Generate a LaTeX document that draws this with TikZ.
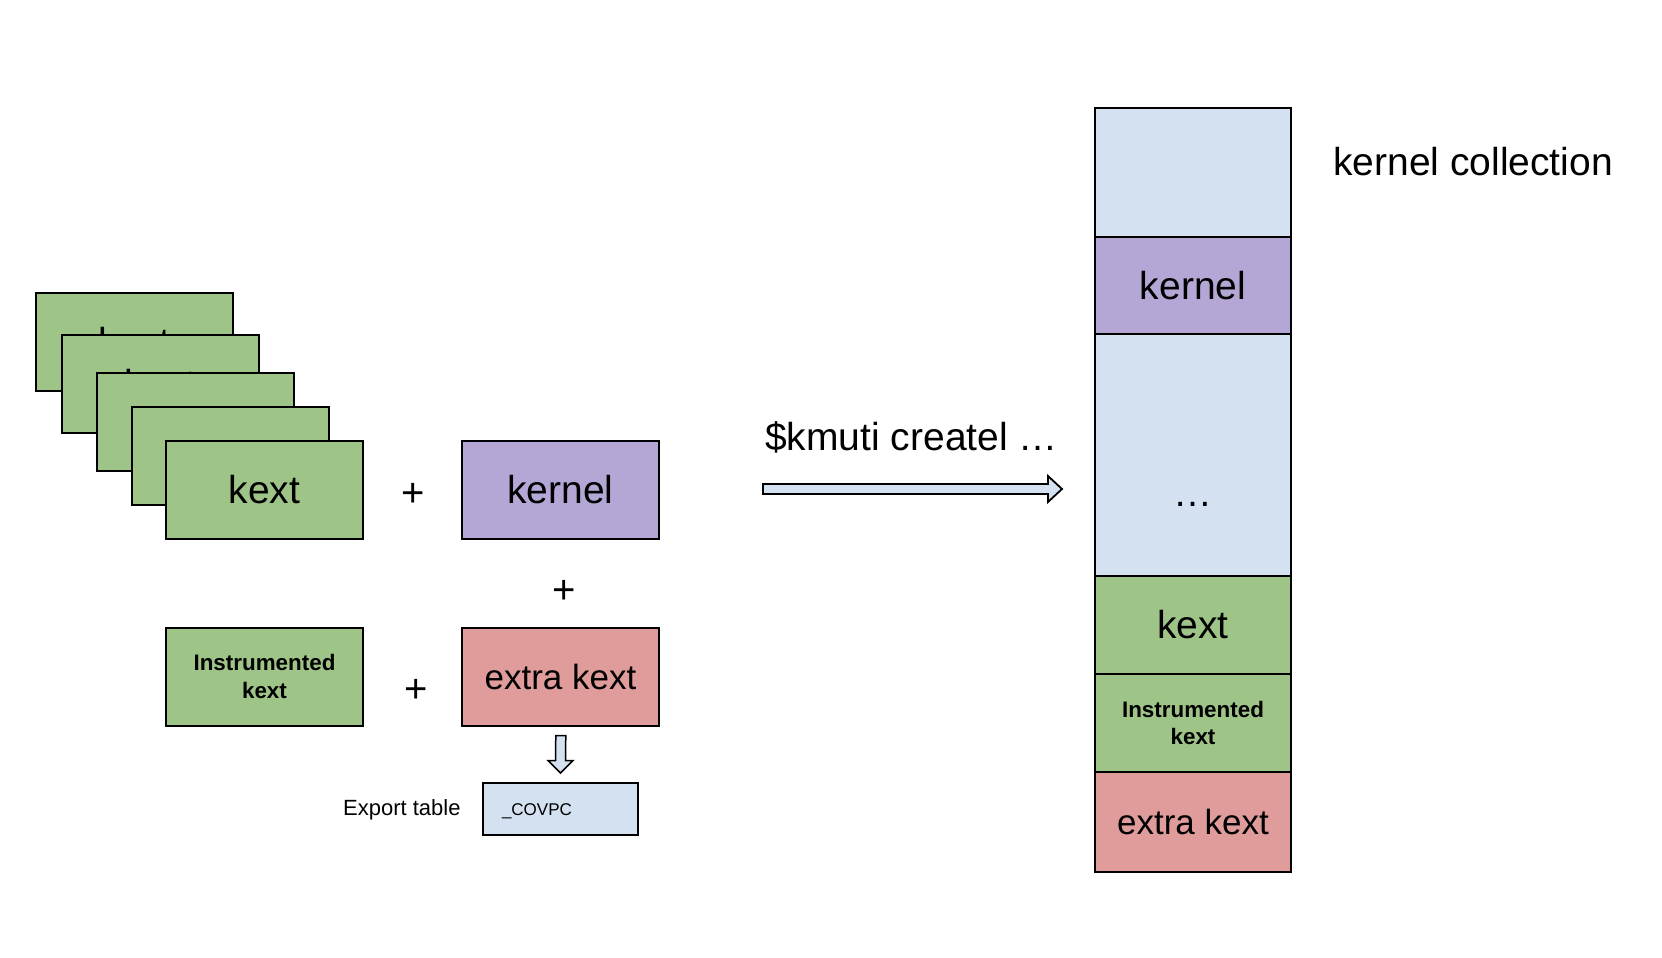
\documentclass[tikz,border=0pt]{standalone}
\usepackage{fontspec}
\setmainfont{Liberation Sans}
\usetikzlibrary{calc}
\definecolor{kgreen}{RGB}{158,196,135}
\definecolor{kpurple}{RGB}{180,167,214}
\definecolor{kred}{RGB}{223,156,155}
\definecolor{kblue}{RGB}{212,225,241}
\tikzset{
  big/.style={font=\fontsize{39}{44}\selectfont},
  box/.style={draw=black, line width=2pt, minimum width=197pt, minimum height=98pt, inner sep=0pt, big},
  gbox/.style={box, fill=kgreen},
  pbox/.style={box, fill=kpurple},
  rbox/.style={box, fill=kred, font=\fontsize{35}{40}\selectfont},
  ibold/.style={font=\fontsize{22.4}{27.7}\selectfont\bfseries, align=center},
  colbox/.style={draw=black, line width=2.2pt, minimum width=196pt, inner sep=0pt, big},
  plus/.style={inner sep=0pt, font=\fontsize{40}{44}\selectfont},
  blockarrow/.style={draw=black, fill=kblue, line width=1.8pt, line join=miter},
}
\begin{document}
\begin{tikzpicture}[x=1pt, y=-1pt]
\useasboundingbox (0,0) rectangle (1662,958);
% stacked kext boxes
\node[gbox] (s1) at (134.5,342) {kext};
\node[gbox] (s2) at (160.5,383.5) {kext};
\node[gbox] (s3) at (195.5,422) {kext};
\node[gbox] (s4) at (230,455.5) {kext};
\node[gbox] (kx) at (264.5,490) {kext};
\node[pbox] (kn) at (560.5,490) {kernel};
\node[gbox, ibold] (ik) at (264.5,676.5) {Instrumented\\kext};
\node[rbox] (ek) at (560.5,676.5) {extra kext};
\node[plus] (p1) at (413,495) {+};
\node[plus] (p2) at (564,592) {+};
\node[plus] (p3) at (416,690.5) {+};
% export table
\node[draw=black, line width=2pt, fill=kblue, minimum width=155pt, minimum height=52pt,
      text width=117pt, inner xsep=19pt, inner ysep=0pt, align=left,
      text height=12.2pt, text depth=0pt, font=\fontsize{17}{20}\selectfont] (ex) at (560.5,809) {\_COVPC};
\node[anchor=base west, inner sep=0pt, font=\fontsize{22}{25}\selectfont] (el) at (343,815.5) {Export table};
% down arrow
\coordinate (dA) at ($(ek.south)+(0.3,9)$);
\coordinate (dB) at ($(ex.north)+(0,-9)$);
\draw[blockarrow, line width=1.5pt] ($(dA)+(-5,0)$) -- ($(dA)+(5,0)$) -- ($(dB)+(5,-12.5)$) -- ($(dB)+(12.5,-12.5)$) -- (dB) -- ($(dB)+(-12.5,-12.5)$) -- ($(dB)+(-5,-12.5)$) -- cycle;
% command
\node[anchor=base west, inner sep=0pt, big] (cmd) at (765,450) {\$kmuti createl …};
\coordinate (aS) at (763,489);
\coordinate (aE) at (1062,489);
\draw[blockarrow] ($(aS)+(0,-5)$) -- ($(aE)+(-14,-5)$) -- ($(aE)+(-14,-13)$) -- (aE) -- ($(aE)+(-14,13)$) -- ($(aE)+(-14,5)$) -- ($(aS)+(0,5)$) -- cycle;
% kernel collection column
\node[colbox, fill=kblue, minimum height=129pt] (c0) at (1193,172.5) {};
\node[colbox, fill=kpurple, minimum height=97pt] (c1) at (1193,285.5) {kernel};
\node[colbox, fill=kblue, minimum height=242pt] (c2) at (1193,455) {};
\node[anchor=base, inner sep=0pt, big] (dots) at (1193,506) {…};
\node[colbox, fill=kgreen, minimum height=98pt] (c3) at (1193,625) {kext};
\node[colbox, fill=kgreen, minimum height=98pt, ibold] (c4) at (1193,723) {Instrumented\\kext};
\node[colbox, fill=kred, minimum height=100pt, font=\fontsize{35}{40}\selectfont] (c5) at (1193,822) {extra kext};
\node[anchor=base west, inner sep=0pt, big] (kc) at (1333,175) {kernel collection};
\end{tikzpicture}
\end{document}
